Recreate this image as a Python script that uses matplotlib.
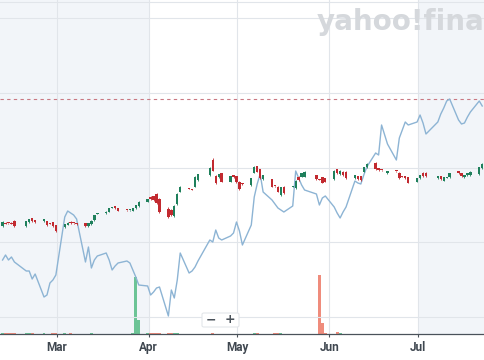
import numpy as np
import pandas as pd
import matplotlib
matplotlib.use('Agg')
import matplotlib.pyplot as plt
import matplotlib.dates as mdates
from matplotlib.patches import FancyBboxPatch

plt.rcParams['font.family'] = ['Roboto', 'DejaVu Sans']

# trading days (2025), timestamps at the close
holidays = ['2025-02-17', '2025-04-18', '2025-05-26', '2025-06-19', '2025-07-04']
dates = pd.bdate_range('2025-02-10', '2025-07-22', freq='C', holidays=holidays) + pd.Timedelta(hours=16)

opens = [10.8, 11.15, 11.1, 11.15, 11.33, 10.8, 11.2, 11.6, 11.4, 11.3, 11.3, 11.1, 11.2, 10.9,
         10.7, 10.95, 11.23, 11.12, 11.05, 11.13, 10.8, 11.0, 11.4, 12.05, 12.1, 12.23, 12.65, 12.8,
         12.6, 12.42, 12.38, 12.33, 12.6, 12.8, 13.23,
         13.73, 13.8, 14.0, 13.5, 12.5, 12.4, 11.8, 13.0, 14.23, 14.6, 14.5, 14.73, 15.4, 15.9,
         17.4, 15.8, 15.67, 16.07, 15.23, 15.9, 15.8,
         15.23, 15.1, 14.9, 16.13, 16.8, 16.47, 15.47, 15.47, 14.82, 14.73, 13.9, 14.73, 14.72,
         14.57, 15.73, 15.73, 15.73, 15.9, 15.5, 15.67, 15.6,
         15.47, 16.47, 16.0, 16.23, 16.23, 15.57, 15.8, 15.8, 16.23, 16.67, 17.13, 16.6, 16.42,
         16.07, 16.32, 16.13, 15.75, 15.8, 15.67, 15.23,
         15.57, 16.13, 16.13, 15.57, 15.8, 15.33, 15.62, 15.67, 16.3, 16.07, 15.67, 15.9, 15.9,
         16.0, 16.57]
highs = [11.3, 11.2, 11.15, 11.2, 11.4, 11.35, 11.55, 11.65, 11.45, 11.55, 11.35, 11.15, 11.25, 10.95,
         11.05, 11.2, 11.35, 11.15, 11.1, 11.15, 11.15, 11.4, 11.95, 12.15, 12.3, 12.65, 12.75, 12.85,
         12.65, 12.45, 12.45, 12.65, 12.95, 13.3, 13.55,
         13.8, 13.85, 14.1, 13.6, 12.7, 12.5, 12.9, 14.1, 14.8, 14.65, 14.55, 15.8, 16.05, 16.75,
         17.6, 15.9, 16.05, 16.1, 15.85, 15.95, 15.85,
         15.3, 15.15, 15.6, 16.8, 16.85, 16.5, 15.95, 15.5, 14.85, 14.8, 14.7, 14.8, 14.8,
         15.4, 15.8, 16.1, 16.3, 15.95, 15.55, 15.7, 15.65,
         16.4, 16.5, 16.4, 16.3, 16.3, 15.95, 15.85, 15.85, 16.75, 17.1, 17.2, 16.65, 16.45,
         16.35, 16.35, 16.2, 15.8, 15.85, 15.7, 15.6,
         15.95, 16.2, 16.2, 15.85, 15.85, 15.7, 15.7, 16.1, 16.35, 16.1, 15.95, 16.1, 16.3,
         16.75, 17.1]
lows = [10.7, 11.0, 11.0, 11.0, 10.7, 10.75, 11.15, 11.25, 11.15, 11.25, 10.85, 11.0, 10.75, 10.25,
        10.6, 10.9, 11.05, 11.0, 10.95, 10.75, 10.75, 10.95, 11.35, 12.0, 12.05, 12.2, 12.6, 12.55,
        12.3, 12.35, 12.35, 12.3, 12.55, 12.75, 13.2,
        13.45, 13.35, 13.0, 12.15, 11.6, 11.8, 11.75, 12.95, 14.2, 14.5, 14.4, 14.7, 15.35, 15.85,
        16.3, 15.05, 15.6, 15.2, 15.2, 15.6, 15.15,
        14.4, 14.95, 14.85, 16.1, 16.2, 15.5, 15.4, 14.7, 14.75, 14.2, 13.8, 14.0, 14.7,
        14.5, 15.35, 15.7, 15.7, 15.4, 15.4, 15.1, 15.2,
        15.4, 16.0, 15.95, 15.85, 15.5, 15.5, 15.4, 15.35, 16.2, 16.6, 16.4, 16.35, 16.35,
        16.0, 16.25, 15.5, 15.7, 15.55, 15.1, 15.2,
        15.5, 15.75, 15.75, 15.5, 15.4, 15.3, 15.6, 15.6, 16.0, 15.75, 15.6, 15.85, 15.85,
        15.95, 16.5]
closes = [11.2, 11.05, 11.08, 11.05, 10.8, 11.3, 11.5, 11.3, 11.2, 11.5, 10.9, 11.05, 10.8, 10.33,
          11.0, 11.13, 11.1, 11.08, 10.98, 10.8, 11.1, 11.33, 11.9, 12.1, 12.23, 12.6, 12.7, 12.6,
          12.33, 12.38, 12.42, 12.6, 12.9, 13.23, 13.5,
          13.5, 13.4, 13.1, 12.23, 11.73, 11.9, 12.8, 14.0, 14.73, 14.55, 14.45, 15.73, 16.0, 16.6,
          16.33, 15.13, 16.0, 15.23, 15.8, 15.67, 15.23,
          14.47, 15.0, 15.57, 16.73, 16.23, 15.57, 15.9, 14.73, 14.78, 14.23, 14.67, 14.07, 14.75,
          15.33, 15.4, 16.07, 16.23, 15.47, 15.45, 15.13, 15.23,
          16.33, 16.07, 16.33, 15.9, 15.57, 15.9, 15.47, 15.4, 16.67, 17.0, 16.47, 16.4, 16.38,
          16.3, 16.28, 15.57, 15.72, 15.6, 15.13, 15.57,
          15.9, 15.8, 15.8, 15.8, 15.47, 15.67, 15.65, 16.07, 16.07, 15.8, 15.9, 16.07, 16.23,
          16.67, 17.0]
comparison = [7.4, 7.9, 7.4, 7.7, 7.2, 6.3, 6.3, 5.5, 6.0, 3.7, 3.9, 5.1, 5.4, 5.9,
              11.7, 12.3, 12.1, 11.9, 11.5, 7.2, 8.7, 6.6, 7.4, 7.8, 8.1, 7.4, 6.4, 6.8,
              7.1, 7.3, 7.1, 6.4, 5.7, 4.9, 4.8,
              3.9, 4.2, 4.6, 4.7, 1.8, 4.4, 3.6, 5.4, 8.1, 6.1, 6.3, 6.7, 7.3, 9.4,
              9.2, 10.4, 9.6, 9.4, 9.8, 10.1, 11.2,
              10.3, 8.9, 10.9, 13.7, 15.0, 16.0, 14.2, 13.4, 13.0, 12.6, 12.4, 12.2, 12.8,
              16.3, 15.6, 14.9, 14.4, 14.0, 12.9, 13.6, 13.8,
              12.7, 12.1, 11.6, 12.2, 12.7, 15.3, 15.1, 15.0, 15.9, 16.7, 18.1, 17.9, 20.9,
              19.0, 17.4, 19.6, 20.4, 21.2, 20.9, 21.2,
              21.9, 21.1, 20.0, 21.2, 22.0, 22.6, 23.3, 23.5, 21.4, 21.0, 21.1, 21.7, 22.2,
              23.3, 22.8]
volume = [8, 10, 12, 9, 11, 6, 12, 8, 5, 6, 5, 4, 7, 10,
          6, 5, 7, 4, 5, 4, 4, 6, 5, 4, 4, 5, 5, 4, 4, 5, 4, 8, 570, 140, 6,
          12, 15, 10, 11, 9, 12, 10, 6, 5, 4, 4, 5, 4, 4, 6, 5, 4, 4, 5, 4, 4,
          4, 4, 5, 6, 8, 5, 4, 4, 6, 9, 8, 5, 4, 4, 5, 4, 4, 5, 590, 110, 6,
          5, 18, 6, 4, 4, 4, 5, 4, 4, 5, 4, 4, 4, 4, 5, 4, 4, 4, 5, 4,
          4, 4, 4, 5, 4, 4, 4, 5, 4, 4, 5, 4, 4, 5, 4]
ref_level = 23.53

x = mdates.date2num(dates.values)
o = np.array(opens)
h = np.array(highs)
l = np.array(lows)
c = np.array(closes)
up = c >= o

fig = plt.figure(figsize=(4.85, 3.6), dpi=100)
axv = fig.add_axes([0, 26 / 360, 1, 334 / 360])
ax = axv.twinx()

x0 = mdates.date2num(np.datetime64('2025-03-01'))
left, right = x0 - 19.2, x0 + 144.6
axv.set_xlim(left, right)
axv.set_ylim(0, 3340)
ax.set_ylim(0, 33.4)

# shaded quarters
shade = '#f2f5f9'
axv.axvspan(left, mdates.date2num(np.datetime64('2025-04-01')), color=shade, lw=0, zorder=0)
axv.axvspan(mdates.date2num(np.datetime64('2025-07-01')), right, color=shade, lw=0, zorder=0)

# volume
vcol = np.where(up, '#6cc496', '#ef8c7c')
axv.bar(x, volume, width=1.0, color=vcol, lw=0, zorder=2)

axv.xaxis.set_major_locator(mdates.MonthLocator())
axv.xaxis.set_major_formatter(mdates.DateFormatter('%b'))
axv.grid(axis='x', color='#e1e5ea', lw=0.8, zorder=1)
axv.set_axisbelow(True)
axv.tick_params(axis='x', length=2.5, width=0.8, color='#4a525a', pad=2.5,
                labelsize=8.5, labelcolor='#3f4750')
for t in axv.get_xticklabels():
    t.set_fontweight('bold')
axv.tick_params(axis='y', left=False, labelleft=False)
for s in ['top', 'left', 'right']:
    axv.spines[s].set_visible(False)
axv.spines['bottom'].set_color('#4a525a')
axv.spines['bottom'].set_linewidth(0.9)

# price grid
ax.set_yticks([1.67, 9.17, 16.63, 24.1, 31.6, 33.2])
ax.grid(axis='y', color='#e1e5ea', lw=0.8)
ax.tick_params(axis='y', right=False, labelright=False, left=False, labelleft=False)
ax.tick_params(axis='x', bottom=False, labelbottom=False)
for s in ax.spines.values():
    s.set_visible(False)

ax.axhline(ref_level, color='#c97882', lw=0.8, ls=(0, (3, 3)), zorder=2)

# comparison line
ax.plot(x, comparison, color='#8db4d4', lw=1.0, zorder=3)

# candles
ccol = np.where(up, '#1f805c', '#c22a30')
ax.vlines(x, l, h, colors=ccol, lw=0.6, zorder=4)
ax.bar(x, np.maximum(np.abs(c - o), 0.08), bottom=np.minimum(o, c), width=0.8,
       color=ccol, lw=0, zorder=5)

# watermark
fig.text(317 / 485, 1 - 30 / 360, 'yahoo!finance', fontsize=20, fontweight='bold',
         color='#d5d8dc', va='baseline', ha='left', family='DejaVu Sans')

# zoom control
box = FancyBboxPatch((202 / 485, 1 - 327 / 360), 37 / 485, 14 / 360,
                     boxstyle='round,pad=0,rounding_size=0.004', transform=fig.transFigure,
                     fc='white', ec='#e3e6ea', lw=0.8)
fig.patches.append(box)
fig.text(211 / 485, 1 - 319.5 / 360, '\u2212', fontsize=9, fontweight='bold',
         color='#4a525a', ha='center', va='center', family='DejaVu Sans')
fig.text(230 / 485, 1 - 319.5 / 360, '+', fontsize=9, fontweight='bold',
         color='#4a525a', ha='center', va='center', family='DejaVu Sans')

fig.savefig('out.png', dpi=100)
